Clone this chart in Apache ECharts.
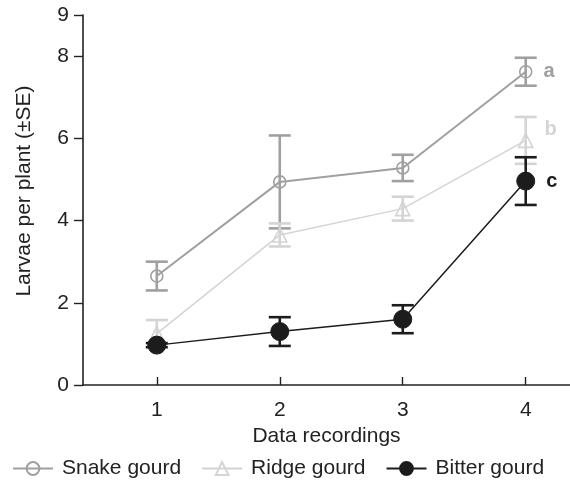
<!DOCTYPE html>
<html><head><meta charset="utf-8">
<script src="https://cdn.jsdelivr.net/npm/echarts@6/dist/echarts.min.js"></script>
<style>html,body{margin:0;padding:0;background:#fff}#c{width:570px;height:480px}</style>
</head><body><div id="c"></div>
<script>
const recordings = [1, 2, 3, 4];
const yTicks = [0, 2, 4, 6, 8, 9];
const seriesNames = ['Snake gourd', 'Ridge gourd', 'Bitter gourd'];
const snakeMean = [2.65, 4.94, 5.28, 7.62];
const snakeSE = [0.35, 1.13, 0.32, 0.34];
const ridgeMean = [1.25, 3.65, 4.29, 5.95];
const ridgeSE = [0.33, 0.28, 0.29, 0.57];
const bitterMean = [0.97, 1.3, 1.6, 4.96];
const bitterSE = [0.05, 0.35, 0.34, 0.58];
const groupLetters = ['a', 'b', 'c'];

const colors = ['#a0a0a0', '#d4d4d4', '#1c1c1c'];
const means = [snakeMean, ridgeMean, bitterMean];
const ses = [snakeSE, ridgeSE, bitterSE];
const symbols = ['circle', 'triangle', 'circle'];
const symbolSizes = [12, 14, 18];
const fills = ['rgba(255,255,255,0)', 'rgba(255,255,255,0)', '#1c1c1c'];
const lineWidths = [2, 1.5, 1.5];
const letterOffsets = [[0, 0], [0, -11], [0, 0]];
const FONT = 'Liberation Sans, Arial, sans-serif';
const FS = 21;

const series = [];
seriesNames.forEach((name, i) => {
  series.push({
    type: 'custom',
    name: name + ' SE',
    z: 2 + i * 2,
    silent: true,
    renderItem: function (params, api) {
      const x = api.value(0);
      const lo = api.coord([x, api.value(1)]);
      const hi = api.coord([x, api.value(2)]);
      const h = 11;
      const st = { stroke: colors[i], lineWidth: 2.6 };
      return {
        type: 'group',
        children: [
          { type: 'line', shape: { x1: lo[0], y1: lo[1], x2: hi[0], y2: hi[1] }, style: st },
          { type: 'line', shape: { x1: lo[0] - h, y1: lo[1], x2: lo[0] + h, y2: lo[1] }, style: st },
          { type: 'line', shape: { x1: hi[0] - h, y1: hi[1], x2: hi[0] + h, y2: hi[1] }, style: st }
        ]
      };
    },
    data: recordings.map((r, k) => [r, means[i][k] - ses[i][k], means[i][k] + ses[i][k]])
  });
  series.push({
    type: 'line',
    name: name,
    z: 3 + i * 2,
    symbol: symbols[i],
    symbolSize: symbolSizes[i],
    lineStyle: { color: colors[i], width: lineWidths[i] },
    itemStyle: { color: fills[i], borderColor: colors[i], borderWidth: i === 2 ? 1 : 1.6 },
    data: recordings.map((r, k) => {
      const d = { value: [r, means[i][k]] };
      if (k === recordings.length - 1) {
        d.label = {
          show: true, position: 'right', distance: 11, formatter: groupLetters[i],
          color: colors[i], fontSize: 20, fontWeight: 'bold', fontFamily: FONT,
          offset: letterOffsets[i]
        };
      }
      return d;
    })
  });
});

const chart = echarts.init(document.getElementById('c'), null, { renderer: 'canvas' });
chart.setOption({
  animation: false,
  backgroundColor: '#fff',
  textStyle: { fontFamily: FONT },
  grid: { left: 83, top: 15, right: 0, bottom: 95, containLabel: false },
  legend: {
    left: 7, top: 453, itemWidth: 40, itemHeight: 16, itemGap: 20,
    textStyle: { fontSize: FS, color: '#222', fontFamily: FONT, padding: [0, 0, 0, 4] },
    data: seriesNames
  },
  xAxis: {
    type: 'value', min: 0.4, max: 4.36,
    name: 'Data recordings', nameLocation: 'middle', nameGap: 34,
    nameTextStyle: { fontSize: FS, color: '#222', fontFamily: FONT },
    axisLine: { lineStyle: { color: '#222', width: 1.6 } },
    axisTick: { show: true, inside: true, length: 8, lineStyle: { color: '#222', width: 1.4 }, customValues: recordings },
    axisLabel: { fontSize: FS, color: '#222', margin: 15, customValues: recordings },
    splitLine: { show: false }
  },
  yAxis: {
    type: 'value', min: 0, max: 9,
    name: 'Larvae per plant (±SE)', nameLocation: 'middle', nameGap: 48,
    nameTextStyle: { fontSize: FS, color: '#222', fontFamily: FONT, padding: [0, 0, 0, 18] },
    axisLine: { show: true, lineStyle: { color: '#222', width: 1.6 } },
    axisTick: { show: true, length: 9, lineStyle: { color: '#222', width: 1.4 }, customValues: yTicks },
    axisLabel: { fontSize: FS, color: '#222', margin: 14, customValues: yTicks },
    splitLine: { show: false }
  },
  series: series
});
</script></body></html>
